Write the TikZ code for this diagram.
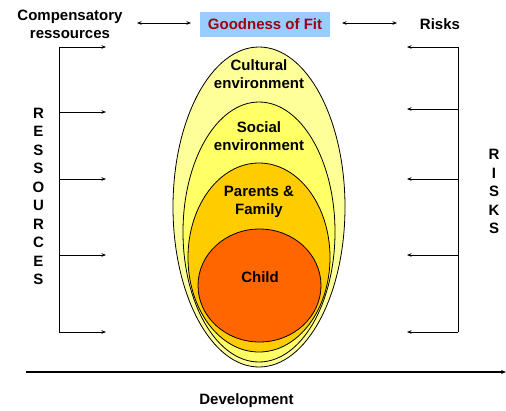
\documentclass[tikz,border=0pt]{standalone}
\usepackage{fontspec}
\setmainfont{Liberation Sans}
\usetikzlibrary{arrows.meta,shapes.geometric}
\definecolor{culturefill}{HTML}{FFFF99}
\definecolor{socialfill}{HTML}{FFFF66}
\definecolor{familyfill}{HTML}{FFCC00}
\definecolor{childfill}{HTML}{FF6600}
\definecolor{fitfill}{HTML}{99CCFF}
\definecolor{fittext}{HTML}{A00010}
\begin{document}
\begin{tikzpicture}[x=1pt,y=-1pt,
  lbl/.style={font=\bfseries\fontsize{15}{18}\selectfont, align=center, inner sep=0pt},
  vlbl/.style={font=\bfseries\fontsize{15}{18.5}\selectfont, align=center, inner sep=0pt, anchor=north},
  ring/.style={ellipse, draw=black, line width=0.8pt, inner sep=0pt, outer sep=0pt},
  tip/.style={-{Stealth[length=4.5pt,width=3.5pt]}, line width=0.6pt},
  both/.style={{Stealth[length=4.5pt,width=3.5pt]}-{Stealth[length=4.5pt,width=3.5pt]}, line width=0.6pt},
  rail/.style={line width=0.8pt}]
\useasboundingbox (0,0) rectangle (506,410);

% nested spheres of influence
\node[ring, fill=culturefill, minimum width=172pt, minimum height=320pt] (cult) at (259,207) {};
\node[ring, fill=socialfill, minimum width=152pt, minimum height=260pt] (soc) at (259,232) {};
\node[ring, fill=familyfill, minimum width=142pt, minimum height=189pt] (fam) at (259,257.5) {};
\node[ring, fill=childfill, minimum width=123pt, minimum height=113pt] (kid) at (259.5,285.5) {};

\node[lbl] (tcult) at (259,74) {Cultural\\environment};
\node[lbl] (tsoc) at (259,136) {Social\\environment};
\node[lbl] (tfam) at (259,202) {Parents \&\\Family};
\node[lbl] (tkid) at (260,277) {Child};

% header row
\node[lbl, fill=fitfill, text=fittext, minimum width=130pt, minimum height=25pt] (fit) at (265,24) {Goodness of Fit};
\node[lbl] (comp) at (70,24) {Compensatory\\ressources};
\node[lbl] (risk) at (440,24) {Risks};

\coordinate (cl) at (137,23);
\coordinate (cr) at (191,23);
\coordinate (rl) at (342,23);
\coordinate (rr) at (397,23);
\draw[both] (cl) -- (cr);
\draw[both] (rl) -- (rr);

% resources rail (left)
\coordinate (lt) at (59,47);
\coordinate (lb) at (59,332);
\draw[rail] (lt) -- (lb);
\foreach \yy [count=\i] in {47,112,179,255,332} {
  \coordinate (ls\i) at (59,\yy);
  \coordinate (le\i) at (106,\yy);
  \draw[tip] (ls\i) -- (le\i);
}
\node[vlbl] (res) at (38.5,107.5) {R\\E\\S\\S\\O\\U\\R\\C\\E\\S};

% risks rail (right)
\coordinate (rt) at (458,47);
\coordinate (rb) at (458,332);
\draw[rail] (rt) -- (rb);
\foreach \yy [count=\i] in {47,109,179,255,332} {
  \coordinate (rs\i) at (458,\yy);
  \coordinate (re\i) at (407,\yy);
  \draw[tip] (rs\i) -- (re\i);
}
\node[vlbl] (rsk) at (494,149) {R\\I\\S\\K\\S};

% development axis
\coordinate (dl) at (25.5,372);
\coordinate (dr) at (506,372);
\draw[-{Stealth[length=5pt,width=4pt]}, line width=1.2pt] (dl) -- (dr);
\node[lbl, anchor=base] (dev) at (246.5,404) {Development};
\end{tikzpicture}
\end{document}
